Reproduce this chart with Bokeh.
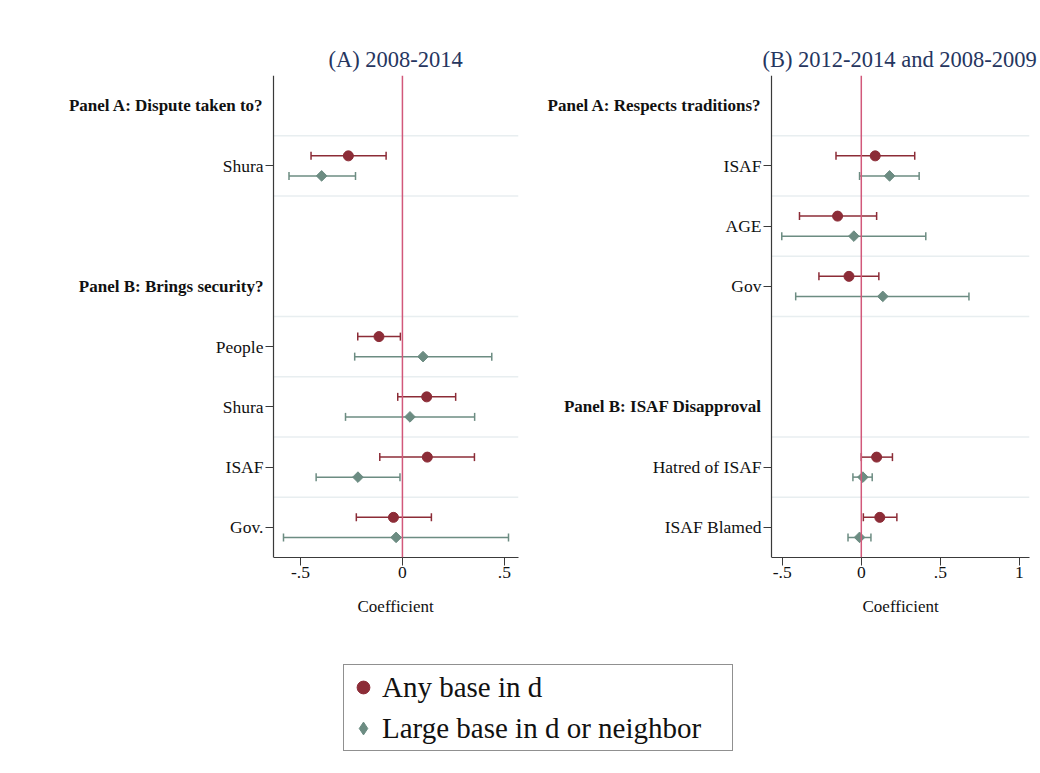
import numpy as np
from bokeh.plotting import figure
from bokeh.models import (ColumnDataSource, Range1d, FixedTicker, Span, Whisker,
                          TeeHead, Legend, LegendItem, Title)
from bokeh.core.properties import value
from bokeh.layouts import column, row
from bokeh.embed import file_html
from bokeh.resources import INLINE

# ---------------- data ----------------
# Panel (A) 2008-2014
a_labels = ["Shura", "People", "Shura", "ISAF", "Gov."]
a_rows = [1, 4, 5, 6, 7]
a_headers = ["Panel A: Dispute taken to?", "Panel B: Brings security?"]
a_header_rows = [0, 3]
a_any_b = [-0.265, -0.115, 0.119, 0.122, -0.044]
a_any_lo = [-0.448, -0.219, -0.023, -0.111, -0.226]
a_any_hi = [-0.080, -0.010, 0.261, 0.353, 0.142]
a_large_b = [-0.396, 0.101, 0.037, -0.218, -0.031]
a_large_lo = [-0.556, -0.234, -0.279, -0.423, -0.583]
a_large_hi = [-0.230, 0.438, 0.354, -0.012, 0.520]
a_xticks = [-0.5, 0, 0.5]
a_xticklabels = ["-.5", "0", ".5"]

# Panel (B) 2012-2014 and 2008-2009
b_labels = ["ISAF", "AGE", "Gov", "Hatred of ISAF", "ISAF Blamed"]
b_rows = [1, 2, 3, 6, 7]
b_headers = ["Panel A: Respects traditions?", "Panel B: ISAF Disapproval"]
b_header_rows = [0, 5]
b_any_b = [0.088, -0.150, -0.078, 0.097, 0.117]
b_any_lo = [-0.160, -0.391, -0.268, 0.000, 0.013]
b_any_hi = [0.338, 0.097, 0.111, 0.197, 0.225]
b_large_b = [0.179, -0.047, 0.136, 0.010, -0.011]
b_large_lo = [-0.011, -0.503, -0.415, -0.053, -0.084]
b_large_hi = [0.366, 0.408, 0.681, 0.069, 0.061]
b_xticks = [-0.5, 0, 0.5, 1]
b_xticklabels = ["-.5", "0", ".5", "1"]

x_title = "Coefficient"
series_names = ["Any base in d", "Large base in d or neighbor"]

# ---------------- style ----------------
RED = "#8C2C37"
GREEN = "#6C8C82"
ZERO = "#D2587A"
TITLE_C = "#26365F"
AXIS_C = "#3A3A3A"
GRID_C = "#E8EEF0"
TXT_C = "#111111"
FONT = "Liberation Serif"
OFF = 0.166


def make_panel(title, labels, rows, headers, header_rows,
               any_b, any_lo, any_hi, large_b, large_lo, large_hi,
               xticks, xticklabels, xr, width, border_right, axis_px,
               title_left, xlabel_left):
    # the frame also covers the label area left of the y axis (axis_px pixels),
    # so the axis is drawn at a fixed location and the headers can be drawn as text
    frame_w = width - border_right
    ext = axis_px * (xr[1] - xr[0]) / (frame_w - axis_px)
    p = figure(width=width, height=640, output_backend="svg", toolbar_location=None,
               x_range=Range1d(xr[0] - ext, xr[1]), y_range=Range1d(7.5, -0.5),
               min_border_left=0, min_border_right=border_right,
               min_border_top=75, min_border_bottom=83)
    p.background_fill_color = "white"
    p.border_fill_color = "white"
    p.outline_line_color = None
    p.title = Title(text=title, align="left", offset=title_left,
                    text_font=FONT, text_font_size="22.5px", text_font_style="normal",
                    text_color=TITLE_C, standoff=8)

    p.xgrid.grid_line_color = None
    p.ygrid.grid_line_color = None

    # separators between categories
    seps = sorted({r + d for r in rows for d in (-0.5, 0.5)} - {7.5, -0.5})
    p.segment(x0=[xr[0]] * len(seps), x1=[xr[1]] * len(seps), y0=seps, y1=seps,
              line_color=GRID_C, line_width=1.5)

    # axes
    for ax in (p.xaxis[0], p.yaxis[0]):
        ax.axis_line_color = AXIS_C
        ax.axis_line_width = 1.2
        ax.major_tick_line_color = AXIS_C
        ax.major_tick_in = 0
        ax.major_tick_out = 8
        ax.minor_tick_line_color = None
        ax.major_label_text_font = FONT
        ax.major_label_text_font_size = "17.5px"
        ax.major_label_text_color = TXT_C
    p.yaxis.fixed_location = xr[0]
    p.yaxis.ticker = FixedTicker(ticks=rows)
    p.yaxis.major_label_overrides = {r: lab for r, lab in zip(rows, labels)}
    p.yaxis.major_label_standoff = 2
    p.xaxis.bounds = (xr[0], xr[1])
    p.xaxis.ticker = FixedTicker(ticks=xticks)
    p.xaxis.major_label_overrides = {t: lab for t, lab in zip(xticks, xticklabels)}
    p.xaxis.major_label_standoff = 1
    # axis title, centred under the data area of the axis
    p.add_layout(Title(text=x_title, align="left", offset=xlabel_left,
                       text_font=FONT, text_font_size="17px", text_font_style="normal",
                       text_color=TXT_C, standoff=28), "below")

    p.add_layout(Span(location=0, dimension="height", line_color=ZERO, line_width=1.5))

    # group headings, right aligned like the tick labels
    p.text(x=[xr[0]] * len(headers), y=header_rows, text=headers, x_offset=-10,
           text_align="right", text_baseline="middle",
           text_font=value(FONT), text_font_style="bold",
           text_font_size="17px", text_color=TXT_C)

    ya = [r - OFF for r in rows]
    yl = [r + OFF for r in rows]
    s_any = ColumnDataSource(dict(y=ya, b=any_b, lo=any_lo, hi=any_hi))
    s_large = ColumnDataSource(dict(y=yl, b=large_b, lo=large_lo, hi=large_hi))
    for src, col in ((s_any, RED), (s_large, GREEN)):
        w = Whisker(source=src, base="y", lower="lo", upper="hi", dimension="width",
                    line_color=col, line_width=1.5,
                    lower_head=TeeHead(size=8, line_color=col, line_width=1.5),
                    upper_head=TeeHead(size=8, line_color=col, line_width=1.5))
        p.add_layout(w)
    p.scatter("b", "y", source=s_any, marker="circle", size=10,
              fill_color=RED, line_color=RED)
    p.scatter("b", "y", source=s_large, marker="square", angle=np.pi / 4, size=7.5,
              fill_color=GREEN, line_color=GREEN)
    return p, s_any, s_large


p1, src_any, src_large = make_panel(
    "(A) 2008-2014", a_labels, a_rows, a_headers, a_header_rows,
    a_any_b, a_any_lo, a_any_hi, a_large_b, a_large_lo, a_large_hi,
    a_xticks, a_xticklabels, (-0.632, 0.569), 532, 14, 273, 328, 357)
p2, _, _ = make_panel(
    "(B) 2012-2014 and 2008-2009", b_labels, b_rows, b_headers, b_header_rows,
    b_any_b, b_any_lo, b_any_hi, b_large_b, b_large_lo, b_large_hi,
    b_xticks, b_xticklabels, (-0.568, 1.064), 508, 11, 239, 230, 330)

# legend panel: series glyphs re-used from panel data, kept outside the visible range
p3 = figure(width=1040, height=125, output_backend="svg", toolbar_location=None,
            x_range=Range1d(0, 1), y_range=Range1d(100, 101),
            min_border=0, min_border_left=0, min_border_right=0,
            min_border_top=0, min_border_bottom=0)
p3.axis.visible = False
p3.grid.visible = False
p3.outline_line_color = None
p3.background_fill_color = "white"
p3.border_fill_color = "white"
r1 = p3.scatter("b", "y", source=src_any, marker="circle", size=14,
                fill_color=RED, line_color=RED)
r2 = p3.scatter("b", "y", source=src_large, marker="diamond", size=14,
                fill_color=GREEN, line_color=GREEN)
legend = Legend(items=[LegendItem(label=series_names[0], renderers=[r1], index=0),
                       LegendItem(label=series_names[1], renderers=[r2], index=0)],
                location=(343, 14), orientation="vertical",
                label_text_font=FONT, label_text_font_size="29px",
                label_text_color=TXT_C,
                label_height=38, glyph_height=38, glyph_width=32,
                label_standoff=3, spacing=3, padding=3, margin=0,
                label_width=347,
                border_line_color="#222222", border_line_width=1,
                background_fill_color="white", background_fill_alpha=1)
p3.add_layout(legend)

layout = column(row(p1, p2, spacing=0), p3, spacing=0)

open("out.html", "w").write(file_html(layout, INLINE))
